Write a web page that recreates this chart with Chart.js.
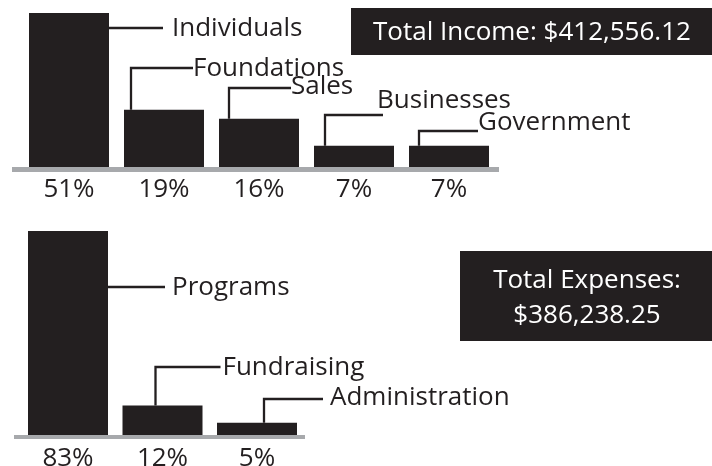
<!DOCTYPE html>
<html>
<head>
<meta charset="utf-8">
<script src="https://cdn.jsdelivr.net/npm/chart.js@4.4.1/dist/chart.umd.min.js"></script>
<style>
  html, body { margin: 0; padding: 0; background: #fff; }
  #wrap { position: relative; width: 712px; height: 466px; overflow: hidden; }
  canvas { position: absolute; left: 0; top: 0; }
</style>
</head>
<body>
<div id="wrap">
  <canvas id="incomeChart" width="712" height="466"></canvas>
  <canvas id="expenseChart" width="712" height="466"></canvas>
</div>
<script>
// Data
const incomeLabels = ['Individuals', 'Foundations', 'Sales', 'Businesses', 'Government'];
const incomeShares = [51, 19, 16, 7, 7];
const incomeTotal = ['Total Income: $412,556.12'];

const expenseLabels = ['Programs', 'Fundraising', 'Administration'];
const expenseShares = [83, 12, 5];
const expenseTotal = ['Total Expenses:', '$386,238.25'];

// Look
const ink = '#231f20';
const gray = '#a7a9ac';
const fontFamily = '"Open Sans", "Noto Sans", sans-serif';

// Leader lines: side = line out of the bar's right edge, otherwise an elbow up from the bar top
const incomeLeaders = [
    { side: true, y: 28, run: 54, gap: 9, textY: 36 },
    { dx: 7, y: 68, run: 62, gap: 0, textY: 76 },
    { dx: 10, y: 88, run: 62, gap: 0, textY: 94 },
    { dx: 11, y: 115, run: 58, gap: -6, textY: 108 },
    { dx: 10, y: 131, run: 59, gap: 0, textY: 130 }
];
const expenseLeaders = [
    { side: true, y: 287, run: 57, gap: 7, textY: 295 },
    { dx: 33, y: 367, run: 65, gap: 2, textY: 375 },
    { dx: 47, y: 399, run: 59, gap: 7, textY: 405 }
];

function annotate(labels, shares, leaders, base, box) {
    return {
        id: 'annotate',
        afterDatasetsDraw(chart) {
            const ctx = chart.ctx;
            const area = chart.chartArea;
            const bars = chart.getDatasetMeta(0).data;
            ctx.save();

            // gray baseline
            ctx.fillStyle = gray;
            ctx.fillRect(base.from, area.bottom, base.to - base.from, base.width);

            ctx.font = '26px ' + fontFamily;
            ctx.fillStyle = ink;
            ctx.strokeStyle = ink;
            ctx.lineWidth = 2.3;
            ctx.lineJoin = 'miter';
            ctx.textBaseline = 'alphabetic';

            bars.forEach((bar, i) => {
                const l = leaders[i];
                const left = bar.x - bar.width / 2;
                const right = bar.x + bar.width / 2;
                let endX;
                ctx.beginPath();
                if (l.side) {
                    ctx.moveTo(right, l.y);
                    endX = right + l.run;
                    ctx.lineTo(endX, l.y);
                } else {
                    const x = left + l.dx;
                    ctx.moveTo(x, bar.y);
                    ctx.lineTo(x, l.y);
                    endX = x + l.run;
                    ctx.lineTo(endX, l.y);
                }
                ctx.stroke();
                ctx.textAlign = 'left';
                ctx.fillText(labels[i], endX + l.gap, l.textY);

                ctx.textAlign = 'center';
                ctx.fillText(shares[i] + '%', bar.x, base.pctY);
            });

            // total box
            ctx.fillStyle = ink;
            ctx.fillRect(box.x, box.y, box.w, box.h);
            ctx.fillStyle = '#fff';
            ctx.textAlign = box.align;
            box.lines.forEach((t, i) => {
                ctx.fillText(t, box.textX, box.textY + i * box.lineGap);
            });
            ctx.restore();
        }
    };
}

function barChart(id, labels, shares, pad, barPct, plugin) {
    return new Chart(document.getElementById(id), {
        type: 'bar',
        data: {
            labels: labels,
            datasets: [{
                data: shares,
                backgroundColor: ink,
                borderWidth: 0,
                barPercentage: barPct,
                categoryPercentage: 1
            }]
        },
        options: {
            responsive: false,
            animation: false,
            layout: { padding: pad },
            plugins: { legend: { display: false }, tooltip: { enabled: false } },
            scales: {
                x: { display: false },
                y: { display: false, min: 0, max: Math.max(...shares) }
            }
        },
        plugins: [plugin]
    });
}

barChart('incomeChart', incomeLabels, incomeShares,
    { left: 21.5, right: 215.5, top: 13, bottom: 299 }, 80 / 95,
    annotate(incomeLabels, incomeShares, incomeLeaders,
        { from: 12, to: 499, width: 5, pctY: 197 },
        { x: 351, y: 8, w: 361, h: 47, lines: incomeTotal, align: 'left', textX: 373, textY: 40, lineGap: 0 }));

barChart('expenseChart', expenseLabels, expenseShares,
    { left: 20.75, right: 407.75, top: 231, bottom: 31 }, 80 / 94.5,
    annotate(expenseLabels, expenseShares, expenseLeaders,
        { from: 14, to: 305, width: 4, pctY: 466 },
        { x: 460, y: 251, w: 252, h: 90, lines: expenseTotal, align: 'center', textX: 587, textY: 288, lineGap: 35 }));
</script>
</body>
</html>
